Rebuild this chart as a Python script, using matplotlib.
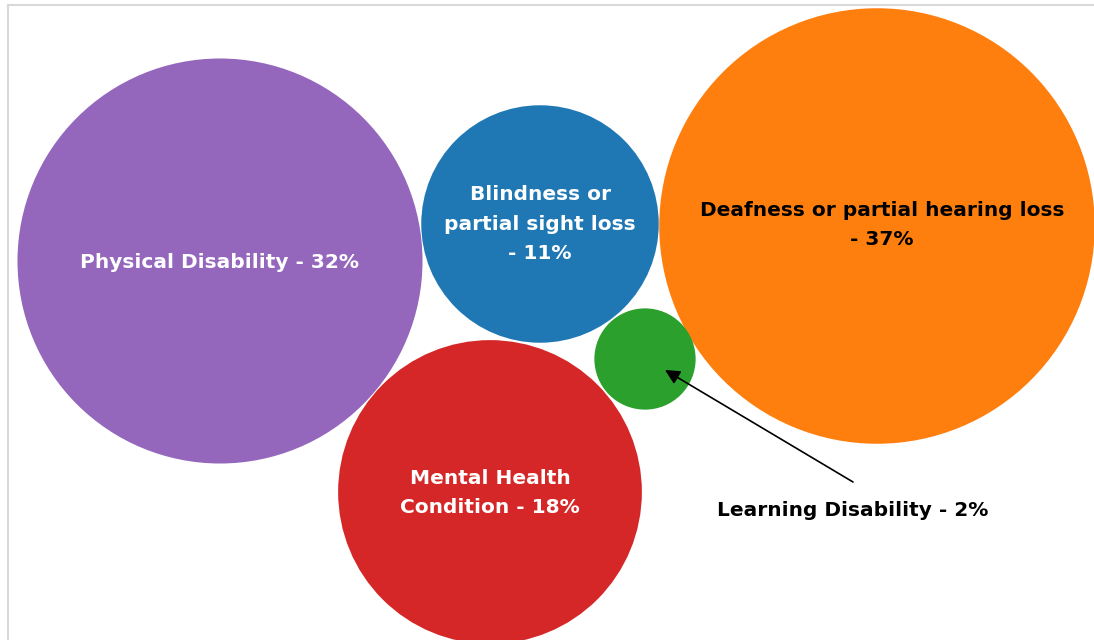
import matplotlib
matplotlib.use('Agg')
import matplotlib.pyplot as plt
from matplotlib.patches import Circle
import numpy as np

# data
categories = ['Physical Disability', 'Blindness or\npartial sight loss', 'Deafness or partial hearing loss',
              'Learning Disability', 'Mental Health\nCondition']
values = [32, 11, 37, 2, 18]
colors = ['#9467bd', '#1f77b4', '#ff7f0e', '#2ca02c', '#d62728']
text_colors = ['white', 'white', 'black', 'black', 'white']

# bubble layout (pixel space, y down)
centers_x = [220, 540, 877, 645, 490]
centers_y = [261, 224, 226, 359, 492]
scale = 35.8  # px per sqrt(percent)

plt.rcParams['font.family'] = ['DejaVu Sans']

fig = plt.figure(figsize=(10.94, 6.4), dpi=100)
ax = fig.add_axes([0, 0, 1, 1])
ax.set_xlim(0, 1094)
ax.set_ylim(640, 0)
ax.set_aspect('equal')
ax.axis('off')

# light frame like the source slide
ax.plot([8, 8], [5, 640], color='#d9d9d9', lw=1.5)
ax.plot([8, 1094], [5, 5], color='#d9d9d9', lw=1.5)

fs = 14.5
for cat, v, cx, cy, c, tc in zip(categories, values, centers_x, centers_y, colors, text_colors):
    r = scale * np.sqrt(v)
    ax.add_patch(Circle((cx, cy), r, color=c, lw=0))
    if v < 5:
        # small bubble gets its label outside, with an arrow
        ax.text(853, 510, f'{cat} - {v}%', ha='center', va='center',
                fontsize=fs, fontweight='bold', color=tc)
        ax.annotate('', xy=(cx + 20, cy + 11), xytext=(853, 482),
                    arrowprops=dict(arrowstyle='-|>', color='black', lw=1.2,
                                    mutation_scale=22, shrinkA=0, shrinkB=0))
        continue
    if cat.startswith(('Blind', 'Deaf')):
        label = f'{cat}\n- {v}%'
    else:
        label = f'{cat} - {v}%'
    tx, ty = cx, cy
    if cat.startswith('Deaf'):
        tx, ty = cx + 5, cy - 1
    elif cat.startswith('Mental'):
        ty = cy + 1
    elif cat.startswith('Physical'):
        ty = cy + 2
    ax.text(tx, ty, label, ha='center', va='center',
            fontsize=fs, fontweight='bold', color=tc, linespacing=1.7)

fig.savefig('out.png', dpi=100, facecolor='white')
